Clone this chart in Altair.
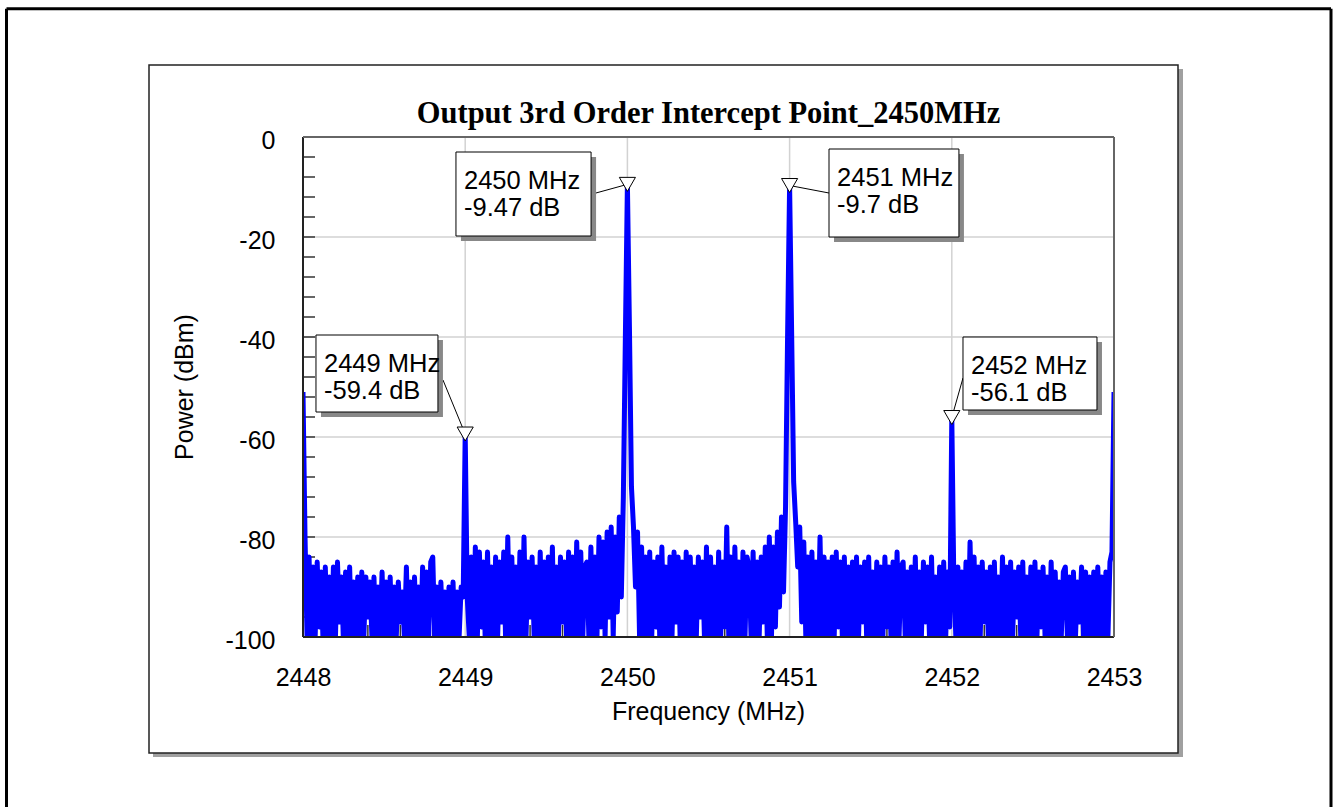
import altair as alt
import pandas as pd

# ---------------- spectrum data ----------------
# Tones (MHz, dBm) and the two span edges
tone_freq = [2449, 2450, 2451, 2452]
tone_power = [-59.4, -9.47, -9.7, -56.1]
edge_freq = [2448, 2453]
edge_power = [-51.0, -51.0]

# Noise-floor samples between consecutive whole-MHz points (dBm)
noise_2448 = [-80, -100, -84, -102, -86, -100, -85, -98, -87, -103, -86, -100, -88, -101, -86, -100,
              -85, -97, -88, -102, -87, -100, -86, -101, -89, -100, -88, -103, -87, -100, -88, -96,
              -89, -100, -88, -102, -90, -100, -87, -101, -89, -100, -88, -103, -90, -100, -89, -97,
              -91, -100, -86, -102, -89, -100, -88, -101, -90, -100, -86, -103, -87, -100, -85, -84,
              -100, -90, -102, -89, -100, -91, -101, -90, -100, -89, -103, -91, -100, -90, -92]
noise_2449 = [-92, -100, -84, -102, -82, -100, -83, -98, -85, -103, -83, -100, -86, -101, -84, -100,
              -85, -97, -83, -102, -80, -100, -84, -101, -86, -100, -83, -103, -80, -100, -85, -96,
              -84, -100, -86, -102, -83, -100, -85, -101, -84, -100, -82, -103, -86, -100, -84, -97,
              -85, -100, -83, -102, -84, -100, -81, -101, -83, -100, -86, -85, -100, -82, -103, -84,
              -100, -80, -98, -81, -100, -79, -96, -78, -100, -80, -95, -76, -92, -72, -40]
noise_2450 = [-38, -70, -78, -90, -79, -100, -82, -101, -84, -102, -83, -100, -85, -98, -84, -101,
              -82, -100, -86, -103, -84, -100, -83, -97, -84, -100, -85, -102, -83, -100, -84, -101,
              -86, -100, -84, -96, -85, -100, -82, -103, -84, -100, -86, -101, -83, -100, -85, -98,
              -78, -100, -84, -102, -82, -100, -85, -101, -83, -100, -84, -86, -100, -83, -103, -85,
              -100, -84, -97, -82, -100, -80, -101, -82, -98, -79, -94, -76, -91, -74, -40]
noise_2451 = [-39, -69, -77, -86, -78, -97, -81, -100, -84, -101, -83, -102, -85, -100, -80, -101,
              -84, -100, -85, -103, -84, -100, -83, -98, -85, -100, -84, -102, -86, -100, -85, -101,
              -84, -100, -86, -97, -85, -100, -84, -103, -87, -100, -85, -101, -86, -100, -84, -98,
              -86, -100, -85, -102, -83, -100, -86, -85, -100, -87, -101, -86, -100, -84, -103, -87,
              -100, -85, -97, -86, -100, -84, -102, -88, -100, -86, -101, -85, -100, -87, -98]
noise_2452 = [-89, -100, -86, -102, -87, -100, -85, -101, -81, -100, -84, -103, -86, -100, -85, -97,
              -87, -100, -86, -102, -85, -100, -88, -101, -84, -100, -86, -103, -85, -100, -87, -96,
              -86, -100, -85, -102, -88, -100, -86, -101, -85, -100, -87, -98, -86, -100, -88, -102,
              -85, -100, -87, -101, -89, -100, -87, -86, -100, -88, -103, -87, -100, -89, -97, -86,
              -100, -87, -102, -88, -100, -87, -101, -86, -100, -88, -103, -87, -100, -85, -83]

# Marker label boxes (data units): left, right, top, bottom, in tone order
box_left = [2448.080, 2448.943, 2451.243, 2452.069]
box_right = [2448.832, 2449.776, 2452.044, 2452.895]
box_top = [-39.6, -3.0, -2.4, -40.0]
box_bottom = [-55.0, -19.8, -20.0, -54.6]
# Where each leader line leaves its box
lead_freq = [2448.863, 2449.806, 2451.243, 2452.069]
lead_power = [-48.6, -11.2, -11.2, -48.2]

# ---------------- assemble trace ----------------
whole_mhz = {edge_freq[0]: edge_power[0], edge_freq[1]: edge_power[1]}
for f, p in zip(tone_freq, tone_power):
    whole_mhz[f] = p

rows = []
for start, seg in zip([2448, 2449, 2450, 2451, 2452],
                      [noise_2448, noise_2449, noise_2450, noise_2451, noise_2452]):
    rows.append({"freq": float(start), "power": whole_mhz[start]})
    n = len(seg) + 1
    for k, p in enumerate(seg, start=1):
        rows.append({"freq": start + k / n, "power": float(p)})
rows.append({"freq": 2453.0, "power": whole_mhz[2453]})
trace = pd.DataFrame(rows)

tones = pd.DataFrame({
    "freq": tone_freq,
    "power": tone_power,
    "line1": [f"{f} MHz" for f in tone_freq],
    "line2": [f"{p} dB" for p in tone_power],
    "bl": box_left, "br": box_right, "bt": box_top, "bb": box_bottom,
    "lf": lead_freq, "lp": lead_power,
})

W, H = 811, 500
FONT = "Liberation Sans"
xs = alt.Scale(domain=[2448, 2453], nice=False, zero=False)
ys = alt.Scale(domain=[-100, 0], nice=False, zero=False)
x_axis = alt.Axis(values=[2448, 2449, 2450, 2451, 2452, 2453],
                  labelExpr="toString(datum.value)",
                  labelFontSize=25, labelFont=FONT, labelColor="black",
                  labelPadding=28, labelFlush=False, labelOverlap=False,
                  ticks=False, domain=False, grid=False, zindex=1, title=None)
y_axis = alt.Axis(values=[0, -20, -40, -60, -80, -100],
                  labelExpr="toString(datum.value)",
                  labelFontSize=25, labelFont=FONT, labelColor="black",
                  labelPadding=28, labelFlush=False, labelOverlap=False,
                  labelOffset=3,
                  ticks=False, domain=False, grid=False, zindex=1, title=None)
one = alt.Data(values=[{"k": 0}])


def X(field):
    return alt.X(field, type="quantitative", scale=xs, axis=x_axis, title=None)


def Y(field):
    return alt.Y(field, type="quantitative", scale=ys, axis=y_axis, title=None)


def px_rect(x, x2, y, y2, **kw):
    return alt.Chart(one).mark_rect(**kw).encode(
        x=alt.value(x), x2=alt.value(x2), y=alt.value(y), y2=alt.value(y2))


def px_rule(color, width, **enc):
    return alt.Chart(one).mark_rule(color=color, strokeWidth=width).encode(
        **{k: alt.value(v) for k, v in enc.items()})


# page frame (left, top, right edges) and panel with drop shadow
outer_l = px_rule("black", 3, x=-296.5, y=-128.3, y2=670)
outer_t = px_rule("black", 3, x=-296.5, x2=1028, y=-128.3)
outer_r = px_rule("black", 3, x=1028, y=-128.3, y2=670)
panel_shadow = px_rect(-150, 880, -68, 620, fill="#a0a0a0")
panel = px_rect(-154, 875, -72, 616, fill="white", stroke="#222222", strokeWidth=1.5)

# grid
grid_y = alt.Chart(pd.DataFrame({"g": [-20, -40, -60, -80]})).mark_rule(
    color="#d2d2d2", strokeWidth=1.5).encode(y=Y("g"))
grid_x = alt.Chart(pd.DataFrame({"g": [2449, 2450, 2451, 2452]})).mark_rule(
    color="#d2d2d2", strokeWidth=1.5).encode(x=X("g"))

# inward minor ticks
ytick_vals = [-4 * i for i in range(1, 25)]
xtick_vals = [round(2448 + 0.2 * i, 1) for i in range(1, 25) if i % 5 != 0]
yticks = alt.Chart(pd.DataFrame({"t": ytick_vals})).mark_rule(
    color="#333333", strokeWidth=1.5).encode(
    y=Y("t"), x=alt.value(0), x2=alt.value(12))
xticks = alt.Chart(pd.DataFrame({"t": xtick_vals})).mark_rule(
    color="#333333", strokeWidth=1.5).encode(
    x=X("t"), y=alt.value(H), y2=alt.value(H - 12))

# spectrum trace
line = alt.Chart(trace).mark_line(
    color="#0000ff", strokeWidth=5, clip=True, strokeJoin="round").encode(
    x=X("freq"), y=Y("power"), order="freq:Q")

# plot frame: dark left/bottom, grey top/right
frame_l = px_rule("#222222", 2, x=0, y=0, y2=H)
frame_b = px_rule("#222222", 2, x=0, x2=W, y=H)
frame_t = px_rule("#666666", 2, x=0, x2=W, y=0)
frame_r = px_rule("#666666", 2, x=W, y=0, y2=H)

# marker annotations
t_base = alt.Chart(tones)
leaders = t_base.mark_rule(color="black", strokeWidth=1).encode(
    x=X("lf"), x2="freq:Q", y=Y("lp"), y2="power:Q")
box_shadow = t_base.mark_rect(fill="#888888", xOffset=5, x2Offset=5, yOffset=5, y2Offset=5).encode(
    x=X("bl"), x2="br:Q", y=Y("bt"), y2="bb:Q")
boxes = t_base.mark_rect(fill="white", stroke="black", strokeWidth=1).encode(
    x=X("bl"), x2="br:Q", y=Y("bt"), y2="bb:Q")
text_style = dict(align="left", baseline="alphabetic", dx=8, font=FONT, fontSize=25.5,
                  color="black")
box_text1 = t_base.mark_text(dy=37, **text_style).encode(
    x=X("bl"), y=Y("bt"), text="line1:N")
box_text2 = t_base.mark_text(dy=64, **text_style).encode(
    x=X("bl"), y=Y("bt"), text="line2:N")
markers = t_base.mark_point(
    shape="triangle-down", size=260, filled=True, fill="white", stroke="black",
    strokeWidth=1, opacity=1).encode(x=X("freq"), y=Y("power"))

# titles
title = alt.Chart(one).mark_text(
    font="Liberation Serif", fontWeight="bold", fontSize=30.5, align="center",
    baseline="alphabetic", color="black").encode(
    x=alt.value(W / 2), y=alt.value(-14),
    text=alt.value("Output 3rd Order Intercept Point_2450MHz"))
ytitle = alt.Chart(one).mark_text(
    font=FONT, fontSize=25, angle=270, align="center", baseline="middle",
    color="black").encode(x=alt.value(-118), y=alt.value(H / 2),
                          text=alt.value("Power (dBm)"))
xtitle = alt.Chart(one).mark_text(
    font=FONT, fontSize=25, align="center", baseline="middle",
    color="black").encode(x=alt.value(W / 2), y=alt.value(575),
                          text=alt.value("Frequency (MHz)"))

chart = alt.layer(
    outer_l, outer_t, outer_r, panel_shadow, panel,
    grid_y, grid_x, yticks, xticks,
    line,
    frame_l, frame_b, frame_t, frame_r,
    leaders, box_shadow, boxes, box_text1, box_text2, markers,
    title, ytitle, xtitle,
).properties(
    width=W, height=H,
    padding={"left": 5, "top": 7, "right": 2, "bottom": 0},
    autosize=alt.AutoSizeParams(type="pad"),
).configure_view(stroke=None).configure(background="white")

chart.save("out.html", embed_options={"renderer": "svg", "actions": False})
